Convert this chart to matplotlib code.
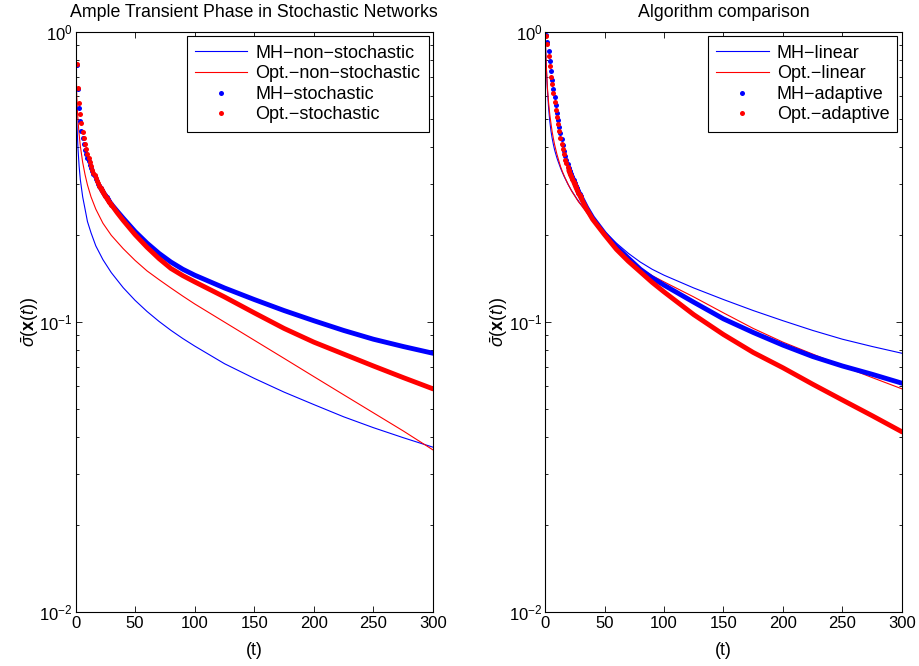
import matplotlib
matplotlib.use('Agg')
import matplotlib.pyplot as plt
from matplotlib.ticker import LogLocator, NullFormatter, FixedLocator

# ---------------- data ----------------
# smooth (thin) curves, left panel
t_line = [0, 1, 2, 3, 4, 6, 8, 10, 13, 17, 23, 30, 40, 50, 60, 70, 80, 90, 100,
          125, 150, 175, 200, 225, 250, 275, 300]
mh_nonstoch = [1.0, 0.50, 0.40, 0.345, 0.31, 0.27, 0.245, 0.222, 0.203, 0.183, 0.164,
               0.148, 0.1313, 0.1187, 0.1087, 0.1005, 0.0936, 0.0877, 0.0826,
               0.0718, 0.0639, 0.0573, 0.0519, 0.0471, 0.0432, 0.0399, 0.0370]
opt_nonstoch = [1.0, 0.60, 0.50, 0.445, 0.405, 0.355, 0.322, 0.297, 0.270, 0.245, 0.219,
                0.199, 0.179, 0.163, 0.150, 0.140, 0.131, 0.1228, 0.1154,
                0.0999, 0.0865, 0.0749, 0.0648, 0.0561, 0.0486, 0.0421, 0.0362]

# dotted (thick) curves: every step early, sparser later
t_dot = list(range(0, 31)) + [35, 40, 50, 60, 70, 80, 90, 100, 125, 150, 175,
                              200, 225, 250, 275, 300]
mh_stoch = [1.0, 0.77, 0.634, 0.548, 0.493, 0.456, 0.430, 0.410, 0.393, 0.380, 0.368,
            0.358, 0.349, 0.340, 0.332, 0.325, 0.318, 0.312, 0.306, 0.300, 0.295,
            0.290, 0.285, 0.281, 0.277, 0.273, 0.269, 0.265, 0.262, 0.258, 0.255,
            0.241, 0.228, 0.205, 0.187, 0.1725, 0.161, 0.152, 0.145, 0.131, 0.1195,
            0.1095, 0.101, 0.0935, 0.0872, 0.0823, 0.078]
opt_stoch = [1.0, 0.774, 0.643, 0.571, 0.520, 0.484, 0.453, 0.430, 0.410, 0.394, 0.379,
             0.367, 0.355, 0.344, 0.335, 0.327, 0.320, 0.313, 0.307, 0.301, 0.295,
             0.290, 0.285, 0.280, 0.276, 0.272, 0.268, 0.264, 0.260, 0.257, 0.254,
             0.238, 0.224, 0.200, 0.181, 0.1655, 0.153, 0.1445, 0.1375, 0.122, 0.1075,
             0.095, 0.0852, 0.0775, 0.0705, 0.0643, 0.0588]

# right panel
mh_linear = mh_stoch
opt_linear = opt_stoch
mh_adaptive = [1.0, 0.98, 0.926, 0.86, 0.794, 0.734, 0.685, 0.637, 0.595, 0.558, 0.526,
               0.497, 0.471, 0.447, 0.426, 0.407, 0.390, 0.374, 0.361, 0.350, 0.340,
               0.331, 0.323, 0.316, 0.309, 0.302, 0.295, 0.289, 0.283, 0.277, 0.272,
               0.248, 0.229, 0.202, 0.182, 0.166, 0.152, 0.142, 0.134, 0.117, 0.1025,
               0.092, 0.0832, 0.0760, 0.0705, 0.066, 0.0615]
opt_adaptive = [1.0, 0.97, 0.909, 0.829, 0.765, 0.70, 0.66, 0.615, 0.572, 0.538, 0.508,
                0.480, 0.455, 0.432, 0.412, 0.395, 0.379, 0.363, 0.352, 0.342, 0.333,
                0.325, 0.318, 0.311, 0.305, 0.298, 0.291, 0.285, 0.279, 0.274, 0.269,
                0.245, 0.226, 0.200, 0.178, 0.162, 0.149, 0.137, 0.127, 0.106, 0.0905,
                0.0785, 0.0695, 0.0610, 0.0538, 0.0475, 0.0418]

titles = ['Ample Transient Phase in Stochastic Networks', 'Algorithm comparison']
labels_left = ['MH\u2212non\u2212stochastic', 'Opt.\u2212non\u2212stochastic',
               'MH\u2212stochastic', 'Opt.\u2212stochastic']
labels_right = ['MH\u2212linear', 'Opt.\u2212linear', 'MH\u2212adaptive', 'Opt.\u2212adaptive']
xticks = [0, 50, 100, 150, 200, 250, 300]

# ---------------- style ----------------
plt.rcParams['font.family'] = ['Liberation Sans', 'DejaVu Sans']
plt.rcParams['mathtext.fontset'] = 'custom'
plt.rcParams['mathtext.rm'] = 'Liberation Sans'
plt.rcParams['mathtext.it'] = 'Liberation Sans:italic'
plt.rcParams['mathtext.bf'] = 'Liberation Sans:bold'
plt.rcParams['font.size'] = 12

BLUE = (0, 0, 1)
RED = (1, 0, 0)
THIN = 0.8
THICK = 3.5
MS = 3.6
SPLIT = 20   # index where dots merge into a continuous band
NDOT = 31    # dots drawn for the per-step samples
FS_TICK = 12
FS_TEXT = 12.8
FS_LEG = 13

fig = plt.figure(figsize=(9.2, 6.66), dpi=100)
ax_l = fig.add_axes([0.0821, 0.0811, 0.3886, 0.8709])
ax_r = fig.add_axes([0.5924, 0.0811, 0.3880, 0.8709])


def draw(ax, thin_b, thin_r, t_thin, dot_b, dot_r, labels, title):
    ax.plot(t_thin, thin_b, '-', color=BLUE, lw=THIN, label=labels[0])
    ax.plot(t_thin, thin_r, '-', color=RED, lw=THIN, label=labels[1])
    ax.plot(t_dot[1:NDOT], dot_b[1:NDOT], 'o', color=BLUE, ms=MS, mew=0, label=labels[2])
    ax.plot(t_dot[SPLIT:], dot_b[SPLIT:], '-', color=BLUE, lw=THICK, solid_capstyle='round')
    ax.plot(t_dot[1:NDOT], dot_r[1:NDOT], 'o', color=RED, ms=MS, mew=0, label=labels[3])
    ax.plot(t_dot[SPLIT:], dot_r[SPLIT:], '-', color=RED, lw=THICK, solid_capstyle='round')
    ax.set_yscale('log')
    ax.set_xlim(0, 300)
    ax.set_ylim(1e-2, 1e0)
    ax.xaxis.set_major_locator(FixedLocator(xticks))
    ax.yaxis.set_major_locator(LogLocator(base=10, numticks=10))
    ax.yaxis.set_minor_locator(LogLocator(base=10, subs=range(2, 10), numticks=20))
    ax.yaxis.set_minor_formatter(NullFormatter())
    ax.tick_params(which='both', direction='in', top=True, right=True, width=0.6,
                   labelsize=FS_TICK)
    ax.tick_params(which='major', length=4.5)
    ax.tick_params(axis='y', which='major', pad=2)
    ax.tick_params(axis='x', which='major', pad=3)
    ax.tick_params(which='minor', length=2.5)
    for s in ax.spines.values():
        s.set_linewidth(0.8)
    ax.set_xlabel('(t)', fontsize=FS_TEXT)
    ax.xaxis.set_label_coords(0.5, -0.051)
    ax.set_ylabel(r'$\bar{\sigma}(\mathbf{x}(t))$', fontsize=FS_TEXT)
    ax.yaxis.set_label_coords(-0.097, 0.5)
    ax.set_title(title, fontsize=FS_TEXT, pad=11)
    leg = ax.legend(loc='upper right', fontsize=FS_LEG, frameon=True, fancybox=False,
                    edgecolor='black', framealpha=1, borderaxespad=0.25,
                    handlelength=2.9, numpoints=1, labelspacing=0.2,
                    borderpad=0.45, handletextpad=0.45)
    leg.get_frame().set_linewidth(0.8)


draw(ax_l, mh_nonstoch, opt_nonstoch, t_line, mh_stoch, opt_stoch, labels_left, titles[0])
draw(ax_r, mh_linear, opt_linear, t_dot, mh_adaptive, opt_adaptive, labels_right, titles[1])

fig.savefig('out.png', dpi=100)
